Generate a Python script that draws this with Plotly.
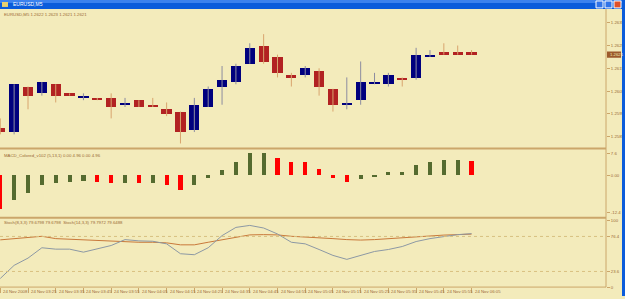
import plotly.graph_objects as go

# ---------------- data ----------------
bar_idx = list(range(35))  # M5 bars, 24 Nov 2008 03:15 .. 06:05
open_ = [1.2589, 1.2587, 1.2607, 1.2604, 1.2608, 1.2604, 1.2602, 1.2602, 1.2602, 1.2599,
         1.2601, 1.2599, 1.2597, 1.2596, 1.2588, 1.2598, 1.2607, 1.2609, 1.2617, 1.2625,
         1.2620, 1.2612, 1.2612, 1.2614, 1.2606, 1.2599, 1.2601, 1.2608, 1.2608, 1.2611,
         1.2611, 1.2620, 1.2622, 1.2622, 1.2622]
high_ = [1.2593, 1.2608, 1.2607, 1.2609, 1.2608, 1.2604, 1.2604, 1.2602, 1.2604, 1.2602,
         1.2601, 1.2602, 1.2600, 1.2596, 1.2602, 1.2607, 1.2616, 1.2617, 1.2626, 1.2630,
         1.2621, 1.2613, 1.2616, 1.2615, 1.2606, 1.2611, 1.2618, 1.2613, 1.2613, 1.2611,
         1.2624, 1.2623, 1.2626, 1.2625, 1.2623]
low_ = [1.2586, 1.2586, 1.2597, 1.2603, 1.2600, 1.2603, 1.2601, 1.2601, 1.2593, 1.2598,
        1.2598, 1.2598, 1.2594, 1.2582, 1.2587, 1.2598, 1.2599, 1.2608, 1.2617, 1.2617,
        1.2611, 1.2607, 1.2611, 1.2603, 1.2596, 1.2597, 1.2599, 1.2608, 1.2607, 1.2607,
        1.2610, 1.2620, 1.2621, 1.2621, 1.2621]
close_ = [1.2587, 1.2608, 1.2603, 1.2609, 1.2603, 1.2603, 1.2603, 1.2601, 1.2598, 1.2600,
          1.2598, 1.2598, 1.2595, 1.2587, 1.2599, 1.2606, 1.2610, 1.2616, 1.2624, 1.2618,
          1.2613, 1.2611, 1.2615, 1.2607, 1.2599, 1.2600, 1.2609, 1.2609, 1.2612, 1.2610,
          1.2621, 1.2621, 1.2621, 1.2621, 1.2621]

macd_hist = [-11.4, -8.2, -5.9, -3.1, -2.6, -2.3, -2.0, -2.1, -2.7, -2.6,
             -2.7, -2.7, -3.2, -5.0, -3.2, -0.7, 1.8, 4.5, 7.6, 7.6,
             6.0, 4.6, 4.4, 2.3, -0.9, -2.3, -1.1, -0.3, 1.0, 1.1,
             3.5, 4.7, 5.2, 5.2, 5.0]
macd_up = [False, True, True, True, True, True, True, False, False, True,
           False, True, False, False, True, True, True, True, True, True,
           False, False, False, False, False, False, True, True, True, True,
           True, True, True, True, False]

stoch_main = [13.0, 32.8, 43.7, 59.3, 57.2, 57.2, 52.7, 57.8, 62.7, 71.6,
              69.7, 69.1, 65.2, 50.3, 48.8, 59.3, 77.6, 90.0, 93.0, 89.1,
              80.1, 67.6, 65.2, 56.7, 47.8, 41.8, 47.8, 53.7, 56.7, 61.2,
              68.7, 73.1, 76.1, 79.1, 80.6]
stoch_signal = [71.2, 73.1, 74.6, 76.6, 73.1, 72.1, 71.2, 70.1, 69.1, 68.2,
                67.6, 67.6, 66.7, 63.7, 63.7, 67.6, 71.6, 75.1, 78.7, 79.1,
                78.7, 76.6, 75.7, 74.6, 73.1, 71.6, 70.9, 71.6, 73.1, 74.6,
                76.1, 77.6, 78.4, 79.1, 79.9]

price_ticks = [1.2635, 1.2625, 1.2615, 1.2605, 1.2595, 1.2585]
macd_ticks = [7.6, 0.0, -12.4]
macd_ticktext = ["7.6", "0.00", "-12.4"]
stoch_levels = [76.4, 23.6]
stoch_ticks = [100, 76.4, 23.6, 0]
stoch_ticktext = ["100", "76.4", "23.6", "0"]
time_labels = ["24 Nov 2008", "24 Nov 03:25", "24 Nov 03:35", "24 Nov 03:45", "24 Nov 03:55",
               "24 Nov 04:05", "24 Nov 04:15", "24 Nov 04:25", "24 Nov 04:35", "24 Nov 04:45",
               "24 Nov 04:55", "24 Nov 05:05", "24 Nov 05:15", "24 Nov 05:25", "24 Nov 05:35",
               "24 Nov 05:45", "24 Nov 05:55", "24 Nov 06:05"]
last_price = 1.2621

# ---------------- style ----------------
W, H = 625, 299
BG = "#F3EBBB"
TAN = "#CBA66A"
TXT = "#9A6A34"
FONT = "Liberation Sans"
FS = 4.3
UP_BODY = "#00007E"
DN_BODY = "#B22222"
UP_WICK = "#8C8CA0"
DN_WICK = "#D8A46E"


def px(x):
    return x / W


def py(y):
    return 1 - y / H


XR = [-0.02, 43.7]
fig = go.Figure()

# wicks
for up, col in [(True, UP_WICK), (False, DN_WICK)]:
    xs, ys = [], []
    for i in bar_idx:
        if (close_[i] >= open_[i]) == up:
            xs += [i, i, None]
            ys += [low_[i], high_[i], None]
    fig.add_trace(go.Scatter(x=xs, y=ys, mode="lines", line=dict(color=col, width=1),
                             xaxis="x", yaxis="y", hoverinfo="skip", showlegend=False))
# bodies
for up, col in [(True, UP_BODY), (False, DN_BODY)]:
    xs, base, hgt = [], [], []
    for i in bar_idx:
        if (close_[i] >= open_[i]) == up:
            xs.append(i)
            base.append(min(open_[i], close_[i]))
            hgt.append(abs(close_[i] - open_[i]))
    fig.add_trace(go.Bar(x=xs, y=hgt, base=base, width=0.74, marker=dict(color=col, line=dict(width=0)),
                         xaxis="x", yaxis="y", showlegend=False, hoverinfo="skip"))

# MACD histogram
for up, col in [(True, "#556B2F"), (False, "#FF0000")]:
    xs = [i for i in bar_idx if macd_up[i] == up]
    ys = [macd_hist[i] for i in xs]
    fig.add_trace(go.Bar(x=xs, y=ys, width=0.3, marker=dict(color=col, line=dict(width=0)),
                         xaxis="x2", yaxis="y2", showlegend=False, hoverinfo="skip"))

# Stochastic
fig.add_trace(go.Scatter(x=bar_idx, y=stoch_signal, mode="lines", line=dict(color="#C8783A", width=1),
                         xaxis="x3", yaxis="y3", showlegend=False, hoverinfo="skip"))
fig.add_trace(go.Scatter(x=bar_idx, y=stoch_main, mode="lines", line=dict(color="#8C98A4", width=1),
                         xaxis="x3", yaxis="y3", showlegend=False, hoverinfo="skip"))

xdom = [0, px(606)]
axcommon = dict(showgrid=False, zeroline=False, showline=False)
tf = dict(size=FS, color=TXT)
fig.update_layout(
    width=W, height=H, margin=dict(l=0, r=0, t=0, b=0),
    paper_bgcolor=BG, plot_bgcolor=BG, bargap=0, barmode="overlay",
    font=dict(family=FONT, size=FS, color=TXT),
    xaxis=dict(domain=xdom, range=XR, anchor="y", showticklabels=False, ticks="", **axcommon),
    xaxis2=dict(domain=xdom, range=XR, anchor="y2", showticklabels=False, ticks="", **axcommon),
    xaxis3=dict(domain=xdom, range=XR, anchor="y3", showticklabels=False, ticks="outside",
                tickvals=bar_idx[::2], ticklen=5, tickcolor=TAN, tickwidth=1, **axcommon),
    yaxis=dict(domain=[py(150), py(9)], range=[1.257978, 1.264109], anchor="x", side="right",
               tickvals=price_ticks, ticktext=[f"{v:.4f}" for v in price_ticks],
               ticks="outside", ticklen=3, tickcolor=TAN, tickfont=tf, **axcommon),
    yaxis2=dict(domain=[py(219), py(151)], range=[-13.81, 8.93], anchor="x2", side="right",
                tickvals=macd_ticks, ticktext=macd_ticktext,
                ticks="outside", ticklen=3, tickcolor=TAN, tickfont=tf, **axcommon),
    yaxis3=dict(domain=[py(290), py(221)], range=[0, 103], anchor="x3", side="right",
                tickvals=stoch_ticks, ticktext=stoch_ticktext,
                ticks="outside", ticklen=3, tickcolor=TAN, tickfont=tf, **axcommon),
)

shapes = []
for lv in stoch_levels:
    shapes.append(dict(type="line", xref="paper", yref="y3", x0=0, x1=px(606), y0=lv, y1=lv,
                       line=dict(color="#D8C080", width=1, dash="dot")))
shapes += [
    dict(type="line", xref="paper", yref="paper", x0=0, x1=px(606), y0=py(150), y1=py(150), line=dict(color=TAN, width=2)),
    dict(type="line", xref="paper", yref="paper", x0=0, x1=px(606), y0=py(220), y1=py(220), line=dict(color=TAN, width=2)),
    dict(type="line", xref="paper", yref="paper", x0=0, x1=px(606), y0=py(290), y1=py(290), line=dict(color=TAN, width=1)),
    dict(type="line", xref="paper", yref="paper", x0=px(606), x1=px(606), y0=py(290), y1=py(9), line=dict(color=TAN, width=1)),
    dict(type="rect", xref="paper", yref="paper", x0=0, x1=1, y0=py(9), y1=1, fillcolor="#0B5CDB", line=dict(width=0)),
    dict(type="rect", xref="paper", yref="paper", x0=0, x1=1, y0=py(3), y1=1, fillcolor="#3C82EE", line=dict(width=0)),
    dict(type="rect", xref="paper", yref="paper", x0=px(622), x1=1, y0=0, y1=1, fillcolor="#0B5CDB", line=dict(width=0)),
    dict(type="rect", xref="paper", yref="paper", x0=px(596), x1=px(603), y0=py(8), y1=py(1), fillcolor="#2F73E8", line=dict(color="white", width=1)),
    dict(type="rect", xref="paper", yref="paper", x0=px(605), x1=px(612), y0=py(8), y1=py(1), fillcolor="#2F73E8", line=dict(color="white", width=1)),
    dict(type="rect", xref="paper", yref="paper", x0=px(614), x1=px(621), y0=py(8), y1=py(1), fillcolor="#E0502A", line=dict(color="white", width=1)),
    dict(type="rect", xref="paper", yref="paper", x0=px(2), x1=px(8), y0=py(7), y1=py(2), fillcolor="#E8D070", line=dict(width=0)),
    dict(type="rect", xref="paper", yref="y", x0=px(607), x1=px(621), y0=last_price - 0.00014, y1=last_price + 0.00014,
         fillcolor="#9C5A2C", line=dict(width=0)),
]
fig.update_layout(shapes=shapes)

ann = []
ann.append(dict(text="EURUSD,M5", x=px(11), y=py(4.5), xref="paper", yref="paper", xanchor="left", yanchor="middle",
                showarrow=False, font=dict(size=5, color="white")))
ann.append(dict(text=f"EURUSD,M5 {open_[-1]:.4f} {high_[-1]:.4f} {low_[-1]:.4f} {close_[-1]:.4f}",
                x=px(2), y=py(15), xref="paper", yref="paper", xanchor="left", yanchor="middle", showarrow=False))
ann.append(dict(text=f"{last_price:.4f}", x=px(608), y=last_price, xref="paper", yref="y", xanchor="left", yanchor="middle",
                showarrow=False, font=dict(size=FS, color="#F3EBBB")))
ann.append(dict(text="MACD_Colored_v102 (5,13,1) 0.00 4.96 0.00 4.96", x=px(2), y=py(157), xref="paper", yref="paper",
                xanchor="left", yanchor="middle", showarrow=False))
ann.append(dict(text="Stoch(8,3,3) 79.6798 79.6798  Stoch(14,3,3) 79.7972 79.6488", x=px(2), y=py(225), xref="paper", yref="paper",
                xanchor="left", yanchor="middle", showarrow=False))
for k, lab in enumerate(time_labels):
    ann.append(dict(text=lab, x=bar_idx[2 * k], y=py(294.5), xref="x3", yref="paper", xanchor="left", yanchor="middle",
                    showarrow=False, xshift=1))
fig.update_layout(annotations=ann)

fig.write_html("out.html")
